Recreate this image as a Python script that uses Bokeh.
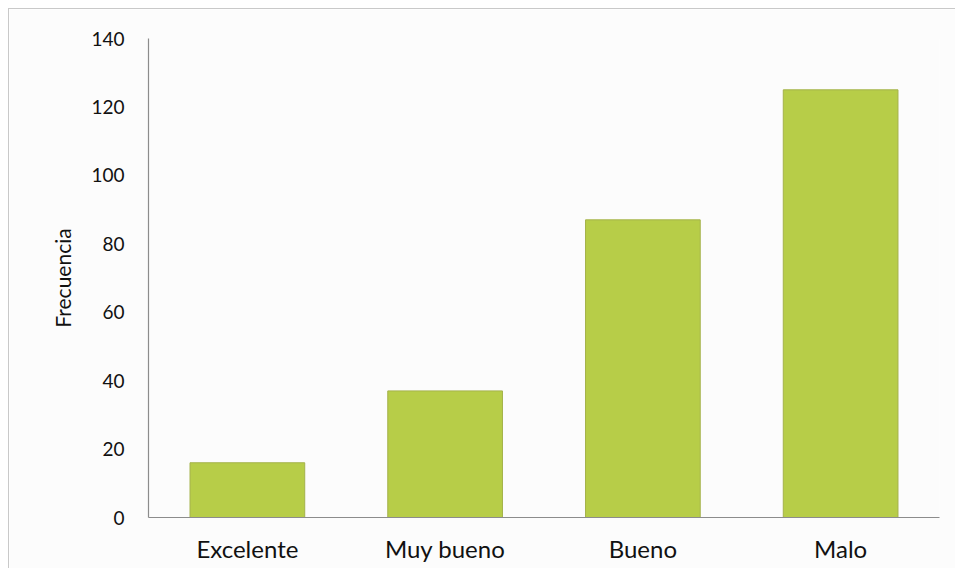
from bokeh.plotting import figure
from bokeh.models import FactorRange, Range1d, FixedTicker
from bokeh.embed import file_html
from bokeh.resources import INLINE

categories = ["Excelente", "Muy bueno", "Bueno", "Malo"]
frecuencia = [16, 37, 87, 125]
y_ticks = [0, 20, 40, 60, 80, 100, 120, 140]

FONT = "Lato"

p = figure(
    x_range=FactorRange(*categories),
    y_range=Range1d(0, 140),
    width=947, height=560,
    output_backend="svg", toolbar_location=None,
    min_border_left=139, min_border_right=17,
    min_border_top=29, min_border_bottom=52,
    background_fill_color="#fcfcfc", border_fill_color="#fcfcfc",
    styles={"margin-left": "8px", "margin-top": "8px",
            "border-left": "1px solid #c9c9c9", "border-top": "1px solid #c9c9c9"},
)
p.x_range.range_padding = 0
p.x_range.factor_padding = 0

p.vbar(x=categories, top=frecuencia, width=0.58,
       fill_color="#b7cd48", line_color="#a4b24a", line_width=1)

p.outline_line_color = None
p.grid.grid_line_color = None

p.yaxis.ticker = FixedTicker(ticks=y_ticks)
for ax in (p.xaxis[0], p.yaxis[0]):
    ax.axis_line_color = "#8c8c8c"
    ax.axis_line_width = 1.2
    ax.major_tick_line_color = None
    ax.minor_tick_line_color = None
    ax.major_tick_out = 0
    ax.major_tick_in = 0
    ax.major_label_text_font = FONT
    ax.major_label_text_color = "#111111"

p.yaxis.major_label_text_font_size = "19px"
p.xaxis.major_label_text_font_size = "24px"
p.yaxis.major_label_standoff = 24
p.xaxis.major_label_standoff = 16
p.yaxis.axis_label = "Frecuencia"
p.yaxis.axis_label_text_font = FONT
p.yaxis.axis_label_text_font_size = "21px"
p.yaxis.axis_label_text_font_style = "normal"
p.yaxis.axis_label_text_color = "#111111"
p.yaxis.axis_label_standoff = 13

open("out.html", "w").write(file_html(p, INLINE))
